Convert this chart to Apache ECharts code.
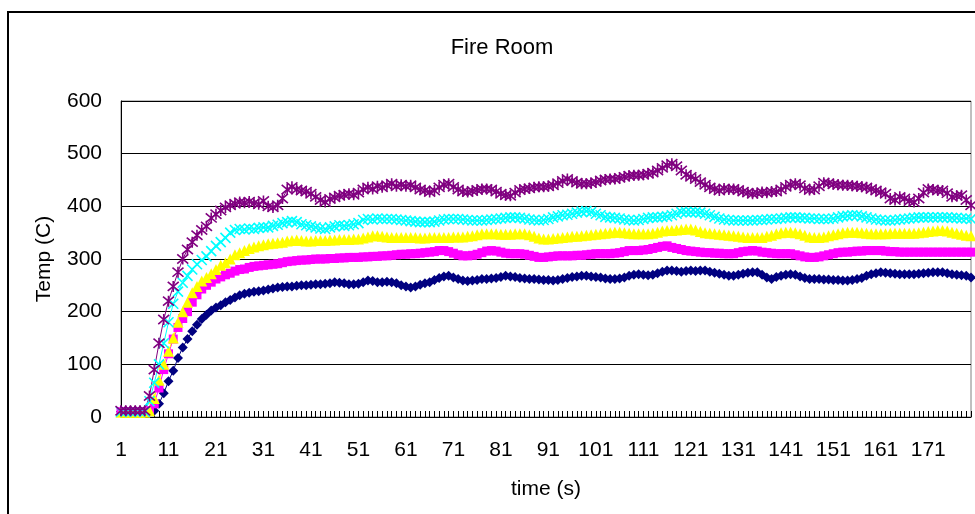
<!DOCTYPE html>
<html>
<head>
<meta charset="utf-8">
<script src="https://cdn.jsdelivr.net/npm/echarts@6/dist/echarts.min.js"></script>
<style>html,body{margin:0;padding:0;background:#fff}#c{width:975px;height:514px}</style>
</head>
<body>
<div id="c"></div>
<script>
const categories = [
1,2,3,4,5,6,7,8,9,10,11,12,13,14,15,16,17,18,19,20,
21,22,23,24,25,26,27,28,29,30,31,32,33,34,35,36,37,38,39,40,
41,42,43,44,45,46,47,48,49,50,51,52,53,54,55,56,57,58,59,60,
61,62,63,64,65,66,67,68,69,70,71,72,73,74,75,76,77,78,79,80,
81,82,83,84,85,86,87,88,89,90,91,92,93,94,95,96,97,98,99,100,
101,102,103,104,105,106,107,108,109,110,111,112,113,114,115,116,117,118,119,120,
121,122,123,124,125,126,127,128,129,130,131,132,133,134,135,136,137,138,139,140,
141,142,143,144,145,146,147,148,149,150,151,152,153,154,155,156,157,158,159,160,
161,162,163,164,165,166,167,168,169,170,171,172,173,174,175,176,177,178,179,180];

const seriesNavy = [10,10,10,10,10,10,10,12,25,45,
68,88,112,132,148,163,175,186,194,202,
208,212,218,222,227,231,234,236,238,239,
240,242,244,246,247,248,248,249,250,250,
251,252,252,253,254,256,255,254,252,252,
253,256,259,258,256,256,257,256,254,250,
248,246,248,251,254,256,260,264,267,268,
265,262,259,258,259,260,262,262,263,264,
266,268,267,266,264,263,262,262,261,260,
260,259,260,262,264,266,267,268,268,267,
266,265,263,262,262,263,265,268,270,271,
270,269,270,273,276,278,278,277,276,277,
278,277,278,278,276,274,272,270,268,268,
270,272,274,275,275,270,265,262,266,268,
270,271,270,267,264,262,262,262,261,261,
260,260,259,259,260,262,264,268,271,273,
275,274,273,272,271,271,271,271,272,273,
274,275,275,275,273,271,270,269,268,265];

const seriesMagenta = [10,10,10,10,10,10,12,25,55,90,
120,148,170,187,200,218,232,243,250,256,
262,266,270,273,277,280,281,284,286,287,
288,289,290,291,293,295,296,297,298,298,
299,300,300,300,301,301,302,302,303,303,
303,304,304,305,305,306,306,307,308,309,
309,310,310,311,312,313,314,316,316,314,
311,308,306,306,307,309,312,315,316,315,
313,311,310,310,310,309,307,305,303,303,
304,305,306,306,306,306,307,307,308,309,
310,310,310,310,311,312,314,316,316,316,
317,318,320,322,324,325,322,320,318,316,
315,314,313,312,312,311,311,310,310,310,
312,314,315,316,315,313,312,311,310,310,
310,310,308,306,304,303,303,304,306,308,
310,312,313,313,314,315,315,316,316,316,
316,315,314,314,313,313,313,313,313,313,
313,313,313,313,313,313,313,313,313,313];

const seriesYellow = [9,9,9,9,9,9,12,35,70,100,
125,150,180,200,218,236,248,258,265,272,
280,288,293,300,308,312,316,320,323,325,
327,329,330,331,332,334,335,336,335,334,
334,335,335,335,336,336,337,337,337,338,
338,340,342,344,344,343,342,341,341,341,
341,341,341,340,340,341,341,341,341,341,
342,342,342,343,344,346,348,348,348,348,
347,347,347,348,348,348,346,343,340,338,
338,339,340,341,342,343,343,344,345,346,
347,348,349,350,351,351,350,349,348,348,
348,348,349,351,353,354,354,355,356,357,
357,355,352,350,349,348,347,346,345,344,
343,342,341,341,341,341,343,345,348,350,
351,351,350,348,345,342,341,341,342,344,
346,348,350,351,351,351,350,349,348,348,
348,348,349,349,349,349,349,349,350,351,
352,353,354,354,353,351,349,347,345,344];

const seriesCyan = [10,10,10,10,10,10,30,65,100,140,
180,215,238,255,268,280,290,298,305,315,
325,332,340,350,355,357,356,358,357,359,
360,360,363,365,368,370,372,370,366,364,
362,360,358,357,360,362,364,363,364,366,
368,374,376,375,377,376,376,376,375,374,
373,372,371,370,370,370,371,373,375,376,
376,376,375,374,373,373,373,374,375,376,
377,378,379,379,378,377,375,374,373,374,
376,379,381,383,384,386,388,390,391,389,
386,383,380,379,378,377,375,374,373,374,
376,378,379,379,380,381,383,386,389,389,
389,389,388,386,383,380,377,375,374,373,
373,373,373,373,374,374,375,376,376,377,
378,379,379,378,378,377,377,376,376,376,
377,379,381,382,383,383,381,379,377,375,
374,373,373,374,375,376,377,378,379,379,
379,379,379,379,379,378,378,377,377,376];

const seriesPurple = [12,12,12,12,12,12,40,90,140,185,
220,248,275,300,318,332,345,355,362,378,
385,392,398,402,405,408,407,409,406,404,
410,400,398,402,415,432,437,432,430,428,
424,418,412,408,414,417,420,422,424,422,
426,432,436,433,438,436,440,443,438,441,
438,440,436,432,430,427,430,436,441,443,
437,432,428,427,429,431,433,433,432,428,
424,421,420,426,431,433,434,436,437,437,
438,440,444,448,452,448,445,443,443,444,
446,449,451,452,452,454,456,458,459,459,
460,462,464,468,473,478,481,476,468,460,
456,452,446,441,436,433,430,434,432,433,
431,428,426,424,425,427,426,428,428,432,
437,441,443,440,434,431,432,438,445,444,
442,441,440,440,439,438,437,436,433,430,
427,424,415,412,418,415,410,408,415,426,
433,432,430,430,425,418,420,421,412,402];

const yTicks = [0,100,200,300,400,500,600];

const FONT = '"Liberation Sans", Arial, sans-serif';
const X_PATH = 'path://M0,0L10,10M10,0L0,10';
const STAR_PATH = 'path://M0,0L10,10M10,0L0,10M5,-1L5,11';

function mk(name, data, color, symbol, size, stroke) {
  return {
    name: name, type: 'line', data: data,
    symbol: symbol, symbolSize: size,
    showSymbol: true, showAllSymbol: true,
    lineStyle: {color: color, width: 1},
    itemStyle: stroke ? {color: 'none', borderColor: color, borderWidth: 1.6} : {color: color, borderWidth: 0},
    emphasis: {disabled: true},
    animation: false
  };
}

const chart = echarts.init(document.getElementById('c'), null, {renderer: 'canvas'});
chart.setOption({
  backgroundColor: '#fff',
  animation: false,
  textStyle: {fontFamily: FONT},
  title: {
    text: 'Fire Room', left: 497, top: 32, textAlign: 'center',
    textStyle: {fontFamily: FONT, fontSize: 22, fontWeight: 'normal', color: '#000'}
  },
  graphic: [{
    type: 'rect', z: -10, silent: true,
    shape: {x: 8, y: 12, width: 1000, height: 600},
    style: {fill: 'none', stroke: '#000', lineWidth: 2}
  }],
  grid: {left: 121, top: 101, width: 850, height: 316, show: true, borderColor: '#808080', borderWidth: 1, backgroundColor: 'transparent'},
  xAxis: {
    type: 'category', data: categories, boundaryGap: false,
    name: 'time (s)', nameLocation: 'middle', nameGap: 62,
    nameTextStyle: {fontFamily: FONT, fontSize: 21, color: '#000'},
    axisLine: {show: true, lineStyle: {color: '#000', width: 1}},
    axisTick: {show: true, inside: true, interval: 0, length: 6, lineStyle: {color: '#000', width: 1}},
    axisLabel: {interval: 9, fontFamily: FONT, fontSize: 21, color: '#000', margin: 23},
    splitLine: {show: false}
  },
  yAxis: {
    type: 'value', min: yTicks[0], max: yTicks[yTicks.length - 1], interval: 100,
    name: 'Temp (C)', nameLocation: 'middle', nameGap: 66,
    nameTextStyle: {fontFamily: FONT, fontSize: 21, color: '#000'},
    axisLine: {show: true, lineStyle: {color: '#000', width: 1}},
    axisTick: {show: false},
    axisLabel: {fontFamily: FONT, fontSize: 21, color: '#000', margin: 19},
    splitLine: {show: true, lineStyle: {color: '#000', width: 1}}
  },
  series: [
    mk('S1', seriesNavy, '#000080', 'diamond', 10, false),
    mk('S2', seriesMagenta, '#FF00FF', 'rect', 9, false),
    mk('S3', seriesYellow, '#FFFF00', 'triangle', 11, false),
    mk('S4', seriesCyan, '#00FFFF', X_PATH, 10, true),
    mk('S5', seriesPurple, '#800080', STAR_PATH, 11, true)
  ]
});
</script>
</body>
</html>
